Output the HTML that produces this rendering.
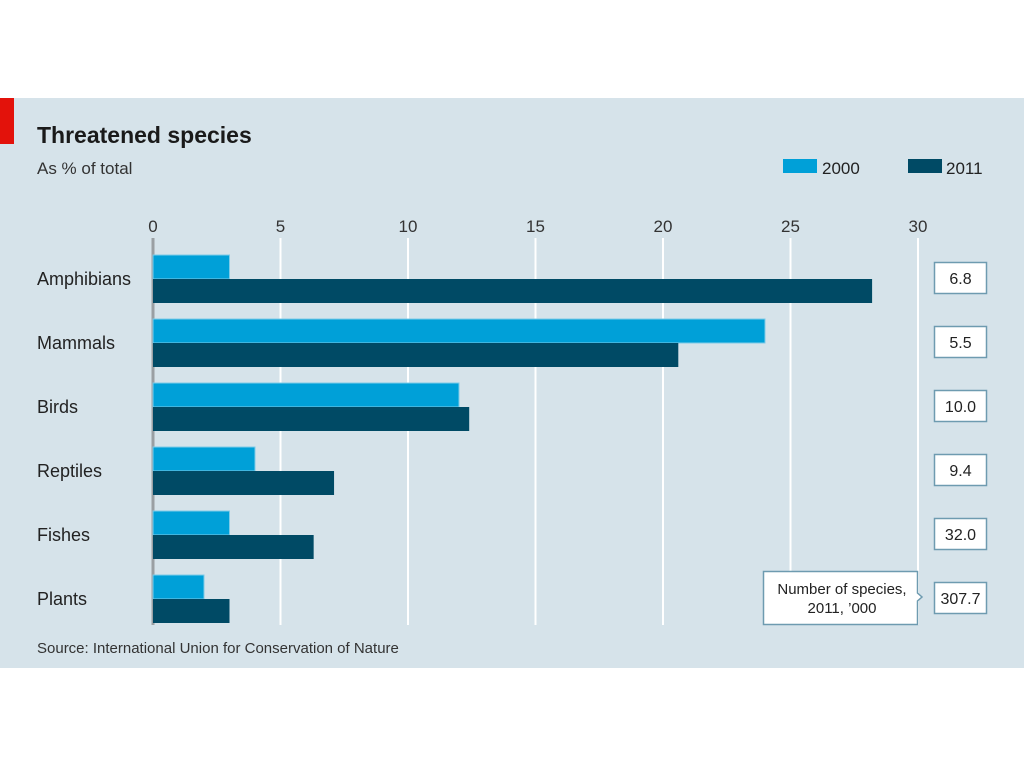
<!DOCTYPE html>
<html><head><meta charset="utf-8"><style>
body{margin:0;width:1024px;height:768px;background:#fff;font-family:"Liberation Sans","DejaVu Sans",sans-serif;position:relative;overflow:hidden}
#panel{position:absolute;left:0;top:98px;width:1024px;height:570px;background:#d6e3ea}
svg{position:absolute;left:0;top:0}
</style></head><body>
<div id="panel"></div>
<svg id="chart" width="1024" height="768"></svg>
<script>
const categories=["Amphibians","Mammals","Birds","Reptiles","Fishes","Plants"];
const values2000=[3.0,24.0,12.0,4.0,3.0,2.0];
const values2011=[28.2,20.6,12.4,7.1,6.3,3.0];
const speciesCounts=["6.8","5.5","10.0","9.4","32.0","307.7"];
const ticks=[0,5,10,15,20,25,30];
const NS="http://www.w3.org/2000/svg";
const svg=document.getElementById('chart');
function x(v){return 153+v*25.5;}
function rowY(i){return 255+i*64;}
function mk(t,a,p){const e=document.createElementNS(NS,t);for(const k in a)e.setAttribute(k,a[k]);(p||svg).appendChild(e);return e;}
function txt(s,a){const e=mk('text',Object.assign({'font-family':'Liberation Sans, sans-serif',fill:'#222'},a));e.textContent=s;return e;}
let e;
e=mk('rect',{x:0,y:98,width:14,height:46,fill:'#e3120b'});


e=txt('Threatened species',{x:37,y:143,'font-size':23,'font-weight':'bold',fill:'#1a1a1a'});


e=txt('As % of total',{x:37,y:174,'font-size':17,fill:'#333'});


// legend
e=mk('rect',{x:783,y:159,width:34,height:14,fill:'#00a0d8'});


e=txt('2000',{x:822,y:174,'font-size':17});


e=mk('rect',{x:908,y:159,width:34,height:14,fill:'#004a65'});


e=txt('2011',{x:946,y:174,'font-size':17});


ticks.forEach(t=>{
  e=mk('line',{x1:x(t),x2:x(t),y1:238,y2:625,stroke:t===0?'#9a9fa3':'#fff','stroke-width':t===0?3:2});
  
  
  e=txt(String(t),{x:x(t),y:232,'font-size':17,'text-anchor':'middle',fill:'#333'});
  
  
});
categories.forEach((c,i)=>{
  const y=rowY(i);
  e=txt(c,{x:37,y:y+30,'font-size':18});
  
  
  e=mk('rect',{x:x(0),y:y,width:x(values2000[i])-x(0),height:24,fill:'#00a0d8',stroke:'#7fcbe8','stroke-width':1});
  
  
  e=mk('rect',{x:x(0),y:y+24,width:x(values2011[i])-x(0),height:24,fill:'#004a65'});
  
  
  e=mk('rect',{x:934.5,y:y+7.5,width:52,height:31,fill:'#fff',stroke:'#6e9bb0','stroke-width':1.5});
  
  
  e=txt(speciesCounts[i],{x:960.5,y:y+29,'font-size':16,'text-anchor':'middle'});
  
  
});
e=mk('path',{d:'M763.5 571.5 H917.5 V593 L922 597 L917.5 601 V624.5 H763.5 Z',fill:'#fff',stroke:'#6e9bb0','stroke-width':1.5});


e=txt('Number of species,',{x:842,y:594,'font-size':15,'text-anchor':'middle'});


e=txt('2011, \u2019000',{x:842,y:613,'font-size':15,'text-anchor':'middle'});


e=txt('Source: International Union for Conservation of Nature',{x:37,y:653,'font-size':15,fill:'#333'});


</script>
</body></html>
